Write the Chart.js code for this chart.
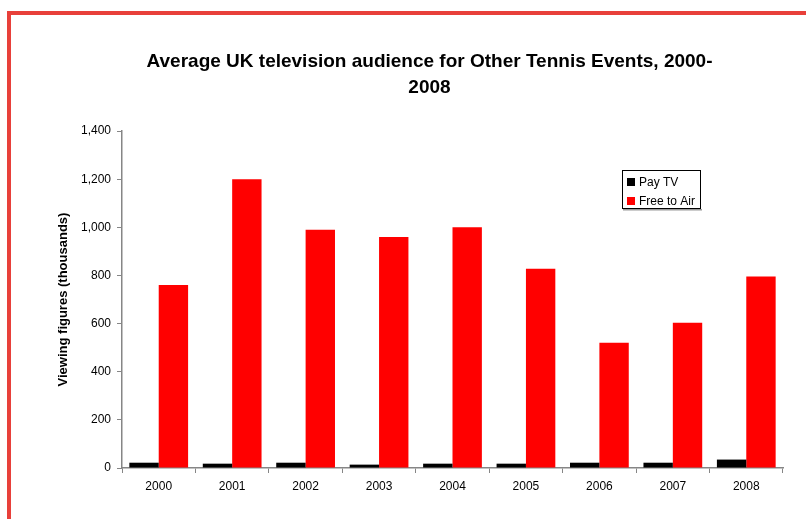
<!DOCTYPE html>
<html lang="en">

<head>
  <title>UK television audience - Other Tennis Events</title>
  <meta charset="UTF-8">
  <meta name="viewport" content="width=device-width, initial-scale=1.0">
  <script src="https://cdn.jsdelivr.net/npm/chart.js"></script>
  <style>
    html, body { margin: 0; padding: 0; background: #fff; overflow: hidden; }
    .moldura {
      position: absolute; left: 7px; top: 11px; width: 820px; height: 540px;
      border-top: 4px solid #e8403a; border-left: 4px solid #e8403a;
      pointer-events: none;
    }
    .container { position: absolute; left: 0; top: 0; width: 806px; height: 519px; }
  </style>
</head>

<body>
  <div class="container"><canvas id="chart"></canvas></div>
  <div class="moldura"></div>
</body>

<script>
  const anos = ['2000', '2001', '2002', '2003', '2004', '2005', '2006', '2007', '2008'];
  const payTV = [22, 18, 22, 14, 18, 18, 22, 22, 35];
  const freeToAir = [760, 1200, 990, 960, 1000, 828, 520, 604, 796];
  const titulo = ['Average UK television audience for Other Tennis Events, 2000-', '2008'];
  const tituloEixoY = 'Viewing figures (thousands)';

  const fonte = "Arial, 'Liberation Sans', sans-serif";
  const cinzaEixo = '#868686';

  // legenda desenhada dentro da área do gráfico, com caixa e sombra
  const legendaCaixa = {
    id: 'legendaCaixa',
    afterDraw(chart) {
      const ctx = chart.ctx;
      const x = 622, y = 170, w = 79, h = 39;
      ctx.save();
      ctx.fillStyle = '#9a9a9a';
      ctx.fillRect(x + 1, y + h, w, 1.5);
      ctx.fillStyle = '#fff';
      ctx.fillRect(x, y, w, h);
      ctx.strokeStyle = '#000';
      ctx.lineWidth = 1;
      ctx.strokeRect(x + 0.5, y + 0.5, w - 1, h - 1);
      ctx.font = '12px ' + fonte;
      ctx.textBaseline = 'middle';
      chart.data.datasets.forEach((ds, i) => {
        const cy = y + 12 + i * 19;
        ctx.fillStyle = ds.backgroundColor;
        ctx.fillRect(x + 5, cy - 4, 8, 8);
        ctx.fillStyle = '#000';
        ctx.fillText(ds.label, x + 17, cy + 0.5);
      });
      ctx.restore();
    }
  };

  const dados = {
    labels: anos,
    datasets: [{
      label: 'Pay TV',
      data: payTV,
      backgroundColor: '#000000'
    }, {
      label: 'Free to Air',
      data: freeToAir,
      backgroundColor: '#ff0000'
    }]
  };

  const opcoes = {
    responsive: true,
    maintainAspectRatio: false,
    animation: false,
    layout: { padding: { left: 53, right: 0, top: 0, bottom: 21 } },
    datasets: {
      bar: { categoryPercentage: 0.8, barPercentage: 1.0 }
    },
    scales: {
      x: {
        grid: { display: true, drawOnChartArea: false, drawTicks: true, tickLength: 5, color: cinzaEixo, offset: true },
        border: { display: true, color: cinzaEixo, width: 1.5 },
        ticks: { color: '#000', font: { family: fonte, size: 12 }, padding: 6, maxRotation: 0 },
        afterFit(scale) { scale.height = 30; }
      },
      y: {
        min: 0,
        max: 1400,
        grid: { display: true, drawOnChartArea: false, drawTicks: true, tickLength: 5, color: cinzaEixo },
        border: { display: true, color: cinzaEixo, width: 1.5 },
        ticks: {
          stepSize: 200,
          color: '#000',
          font: { family: fonte, size: 12 },
          padding: 6,
          callback: (v) => v.toLocaleString('en-US')
        },
        title: {
          display: true,
          text: tituloEixoY,
          color: '#000',
          font: { family: fonte, size: 13, weight: 'bold' },
          padding: { top: 3, bottom: 0 }
        },
        afterFit(scale) { scale.width = 69; }
      },
      // eixo vazio à direita só para reservar espaço
      y2: {
        position: 'right',
        display: true,
        grid: { display: false },
        border: { display: false },
        ticks: { display: false },
        afterFit(scale) { scale.width = 23; }
      }
    },
    plugins: {
      legend: { display: false },
      tooltip: { enabled: false },
      title: {
        display: true,
        text: titulo,
        color: '#000',
        font: { family: fonte, size: 19, weight: 'bold', lineHeight: 1.37 },
        padding: { top: 49, bottom: 30 }
      }
    }
  };

  new Chart(document.getElementById('chart'), {
    type: 'bar',
    data: dados,
    options: opcoes,
    plugins: [legendaCaixa]
  });
</script>

</html>
